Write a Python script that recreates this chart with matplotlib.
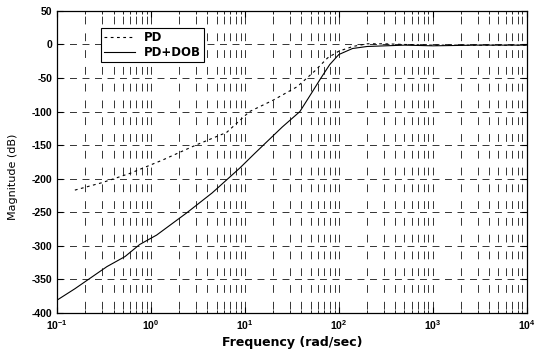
import matplotlib
matplotlib.use("Agg")
import matplotlib.pyplot as plt

plt.rcParams['font.family'] = ['Liberation Sans', 'DejaVu Sans']
plt.rcParams['lines.scale_dashes'] = False
plt.rcParams['axes.unicode_minus'] = False

# magnitude response, PD controller alone
freq_pd = [0.155, 0.3, 0.6, 1.34, 3.0, 6.4, 11.2, 20, 36, 55, 76, 100, 141, 200, 300, 500, 1000, 3000, 10000]
mag_pd = [-217, -206, -192, -172, -150, -131, -100, -83, -63, -40, -20, -10, -3, 1, 1, 0, -1, -1, -1]

# magnitude response, PD with disturbance observer
freq_dob = [0.1, 0.155, 0.34, 0.53, 0.76, 1.15, 2.4, 4.5, 8.85, 12.8, 25, 38.5, 51.5, 62.5, 80, 100, 140, 200, 500, 1000, 3000, 10000]
mag_dob = [-381, -364, -331, -316, -298, -284, -251, -221, -184, -162, -123, -100, -72, -53, -30, -15, -6, -3, -1, -2, -1, -1]

xticks = [0.1, 1, 10, 100, 1000, 10000]
xticklabels = [r'$\mathregular{10^{-1}}$', r'$\mathregular{10^{0}}$', r'$\mathregular{10^{1}}$',
               r'$\mathregular{10^{2}}$', r'$\mathregular{10^{3}}$', r'$\mathregular{10^{4}}$']
yticks = list(range(-400, 51, 50))

fig = plt.figure(figsize=(5.35, 3.52), dpi=100)
ax = fig.add_axes([0.1065, 0.111, 0.878, 0.858])

ax.semilogx(freq_pd, mag_pd, color='black', lw=0.8, linestyle=(0, (2.0, 2.5)), label='PD')
ax.semilogx(freq_dob, mag_dob, color='black', lw=0.8, label='PD+DOB')

ax.set_xlim(0.1, 10000)
ax.set_ylim(-400, 50)
ax.set_xticks(xticks)
ax.set_xticklabels(xticklabels)
ax.set_yticks(yticks)

# dashed grid: every minor decade line vertically, every 50 dB horizontally
# vertical dashes sit on each 25 dB step (period = 302px / 18)
per = 302 / 18 * 0.72
vdash = (per - 2.8, (5.6, per - 5.6))
ax.grid(True, which='both', axis='x', color='0.2', lw=0.7, linestyle=vdash)
ax.grid(True, which='major', axis='y', color='0.2', lw=0.7, linestyle=(0, (5.0, 4.0)))

ax.tick_params(which='both', direction='in', top=True, right=True, labelsize=7.5)
ax.tick_params(which='major', length=4)
ax.tick_params(which='minor', length=2)
for lab in ax.get_yticklabels() + ax.get_xticklabels():
    lab.set_fontweight('bold')
for sp in ax.spines.values():
    sp.set_linewidth(0.9)

ax.set_xlabel('Frequency (rad/sec)', fontsize=9, fontweight='bold', family='DejaVu Sans', labelpad=3)
ax.set_ylabel('Magnitude (dB)', fontsize=8, family='DejaVu Sans')
ax.yaxis.set_label_coords(-0.083, 0.45)

leg = ax.legend(loc='upper left', bbox_to_anchor=(0.094, 0.942), frameon=True,
                prop={'family': 'DejaVu Sans', 'weight': 'bold', 'size': 8.5},
                fancybox=False, edgecolor='black', framealpha=1, handlelength=2.6,
                borderpad=0.25, labelspacing=0.15, handletextpad=0.8, borderaxespad=0)
leg.get_frame().set_linewidth(0.8)

fig.savefig('out.png', dpi=100)
